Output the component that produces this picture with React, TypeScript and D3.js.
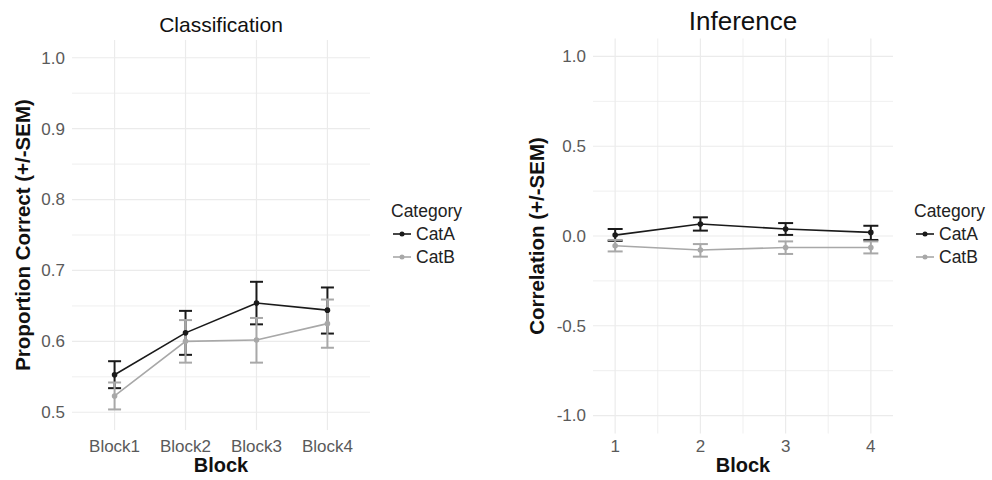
import React, { useEffect, useRef } from 'react';
import * as d3 from 'd3';

const blocks = ['Block1', 'Block2', 'Block3', 'Block4'];
const blockNums = [1, 2, 3, 4];
const categories = ['CatA', 'CatB'];

// Classification: proportion correct, mean and SEM bounds
const classA = [0.553, 0.612, 0.654, 0.644];
const classAlo = [0.534, 0.581, 0.624, 0.611];
const classAhi = [0.572, 0.643, 0.684, 0.676];
const classB = [0.523, 0.600, 0.602, 0.625];
const classBlo = [0.504, 0.570, 0.570, 0.591];
const classBhi = [0.542, 0.630, 0.633, 0.659];

// Inference: correlation, mean and SEM bounds
const infA = [0.005, 0.067, 0.039, 0.020];
const infAlo = [-0.027, 0.030, 0.006, -0.022];
const infAhi = [0.039, 0.104, 0.072, 0.057];
const infB = [-0.054, -0.078, -0.064, -0.064];
const infBlo = [-0.086, -0.115, -0.100, -0.097];
const infBhi = [-0.022, -0.045, -0.030, -0.030];

const classTicks = [0.5, 0.6, 0.7, 0.8, 0.9, 1.0];
const classMinor = [0.55, 0.65, 0.75, 0.85, 0.95];
const infTicks = [-1.0, -0.5, 0.0, 0.5, 1.0];
const infMinor = [-0.75, -0.25, 0.25, 0.75];
const infMinorX = [1.5, 2.5, 3.5];

const colors = { CatA: '#1a1a1a', CatB: '#a8a8a8' };
const FONT = '"Liberation Sans", Arial, sans-serif';
const GRID = '#ebebeb';

// ggplot-style labels use a plain hyphen for negatives
const fmt = (d) => d.toFixed(1);

function App() {
    const ref = useRef(null);

    useEffect(() => {
        const svg = d3.select(ref.current);
        svg.selectAll('*').remove();
        svg.attr('width', 992).attr('height', 480).style('font-family', FONT);

        const drawPanel = (opts) => {
            const { x, xVals, y, ticks, minor, minorX, series, title, titleSize, yTitle, capW, legendX } = opts;
            const g = svg.append('g');
            const [x0, x1] = x.range();
            const [yb, yt] = y.range();

            // grid
            g.selectAll('.minor-y').data(minor).enter().append('line')
                .attr('x1', x0).attr('x2', x1)
                .attr('y1', d => y(d)).attr('y2', d => y(d))
                .attr('stroke', GRID).attr('stroke-width', 0.8);
            if (minorX) {
                g.selectAll('.minor-x').data(minorX).enter().append('line')
                    .attr('x1', d => x(d)).attr('x2', d => x(d))
                    .attr('y1', yt).attr('y2', yb)
                    .attr('stroke', GRID).attr('stroke-width', 0.8);
            }
            g.selectAll('.major-y').data(ticks).enter().append('line')
                .attr('x1', x0).attr('x2', x1)
                .attr('y1', d => y(d)).attr('y2', d => y(d))
                .attr('stroke', GRID).attr('stroke-width', 1.2);
            g.selectAll('.major-x').data(xVals).enter().append('line')
                .attr('x1', d => x(d)).attr('x2', d => x(d))
                .attr('y1', yt).attr('y2', yb)
                .attr('stroke', GRID).attr('stroke-width', 1.2);

            // tick labels
            g.selectAll('.ytick').data(ticks).enter().append('text')
                .attr('x', x0 - 7).attr('y', d => y(d)).attr('dy', '0.35em')
                .attr('text-anchor', 'end').attr('font-size', 17).attr('fill', '#5a5a5a')
                .text(d => fmt(d));
            g.selectAll('.xtick').data(xVals).enter().append('text')
                .attr('x', d => x(d)).attr('y', 452)
                .attr('text-anchor', 'middle').attr('font-size', 17).attr('fill', '#5a5a5a')
                .text(d => d);

            // error bars
            series.forEach(s => {
                const eb = g.append('g').attr('stroke', colors[s.name]).attr('stroke-width', 2).attr('fill', 'none');
                xVals.forEach((xv, i) => {
                    const cx = x(xv);
                    eb.append('line').attr('x1', cx).attr('x2', cx).attr('y1', y(s.lo[i])).attr('y2', y(s.hi[i]));
                    eb.append('line').attr('x1', cx - capW / 2).attr('x2', cx + capW / 2).attr('y1', y(s.lo[i])).attr('y2', y(s.lo[i]));
                    eb.append('line').attr('x1', cx - capW / 2).attr('x2', cx + capW / 2).attr('y1', y(s.hi[i])).attr('y2', y(s.hi[i]));
                });
            });

            // lines
            series.forEach(s => {
                const line = d3.line().x((d, i) => x(xVals[i])).y(d => y(d));
                g.append('path').datum(s.mean).attr('d', line)
                    .attr('fill', 'none').attr('stroke', colors[s.name]).attr('stroke-width', 1.6);
            });

            // points
            series.forEach(s => {
                g.selectAll(null).data(s.mean).enter().append('circle')
                    .attr('cx', (d, i) => x(xVals[i])).attr('cy', d => y(d)).attr('r', 2.8)
                    .attr('fill', colors[s.name]);
            });

            // titles
            g.append('text').attr('x', (x0 + x1) / 2).attr('y', titleSize > 22 ? 30 : 32)
                .attr('text-anchor', 'middle').attr('font-size', titleSize).attr('fill', '#111')
                .text(title);
            g.append('text').attr('x', (x0 + x1) / 2).attr('y', 472)
                .attr('text-anchor', 'middle').attr('font-size', 20).attr('font-weight', 'bold').attr('fill', '#111')
                .text('Block');
            g.append('text')
                .attr('transform', `translate(${opts.yTitleX},${(yt + yb) / 2}) rotate(-90)`)
                .attr('text-anchor', 'middle').attr('font-size', 20.5).attr('font-weight', 'bold').attr('fill', '#111')
                .text(yTitle);

            // legend
            const lg = g.append('g').attr('transform', `translate(${legendX},0)`);
            lg.append('text').attr('x', 0).attr('y', 217).attr('font-size', 17.5).attr('fill', '#222').text('Category');
            categories.forEach((c, i) => {
                const ly = 234 + i * 23;
                lg.append('line').attr('x1', 2).attr('x2', 20).attr('y1', ly).attr('y2', ly)
                    .attr('stroke', colors[c]).attr('stroke-width', 1.6);
                lg.append('circle').attr('cx', 11).attr('cy', ly).attr('r', 2.5).attr('fill', colors[c]);
                lg.append('text').attr('x', 25).attr('y', ly).attr('dy', '0.36em')
                    .attr('font-size', 17.5).attr('fill', '#222').text(c);
            });
        };

        // left panel: Classification
        const xL = d3.scalePoint().domain(blocks).range([72, 370]).padding(0.6);
        const yL = d3.scaleLinear().domain([0.475, 1.025]).range([430, 40]);
        drawPanel({
            x: xL, xVals: blocks, y: yL, ticks: classTicks, minor: classMinor, minorX: null,
            series: [
                { name: 'CatA', mean: classA, lo: classAlo, hi: classAhi },
                { name: 'CatB', mean: classB, lo: classBlo, hi: classBhi },
            ],
            title: 'Classification', titleSize: 21, yTitle: 'Proportion Correct (+/-SEM)', yTitleX: 30,
            capW: 13, legendX: 391,
        });

        // right panel: Inference
        const xR = d3.scaleLinear().domain([0.74, 4.26]).range([593, 893]);
        const yR = d3.scaleLinear().domain([-1.1, 1.1]).range([433.5, 38.5]);
        drawPanel({
            x: xR, xVals: blockNums, y: yR, ticks: infTicks, minor: infMinor, minorX: infMinorX,
            series: [
                { name: 'CatA', mean: infA, lo: infAlo, hi: infAhi },
                { name: 'CatB', mean: infB, lo: infBlo, hi: infBhi },
            ],
            title: 'Inference', titleSize: 26, yTitle: 'Correlation (+/-SEM)', yTitleX: 544,
            capW: 15, legendX: 914,
        });
    }, []);

    return <svg ref={ref} style={{ position: 'absolute', left: 0, top: 0, background: '#fff' }}></svg>;
}

export default App;
